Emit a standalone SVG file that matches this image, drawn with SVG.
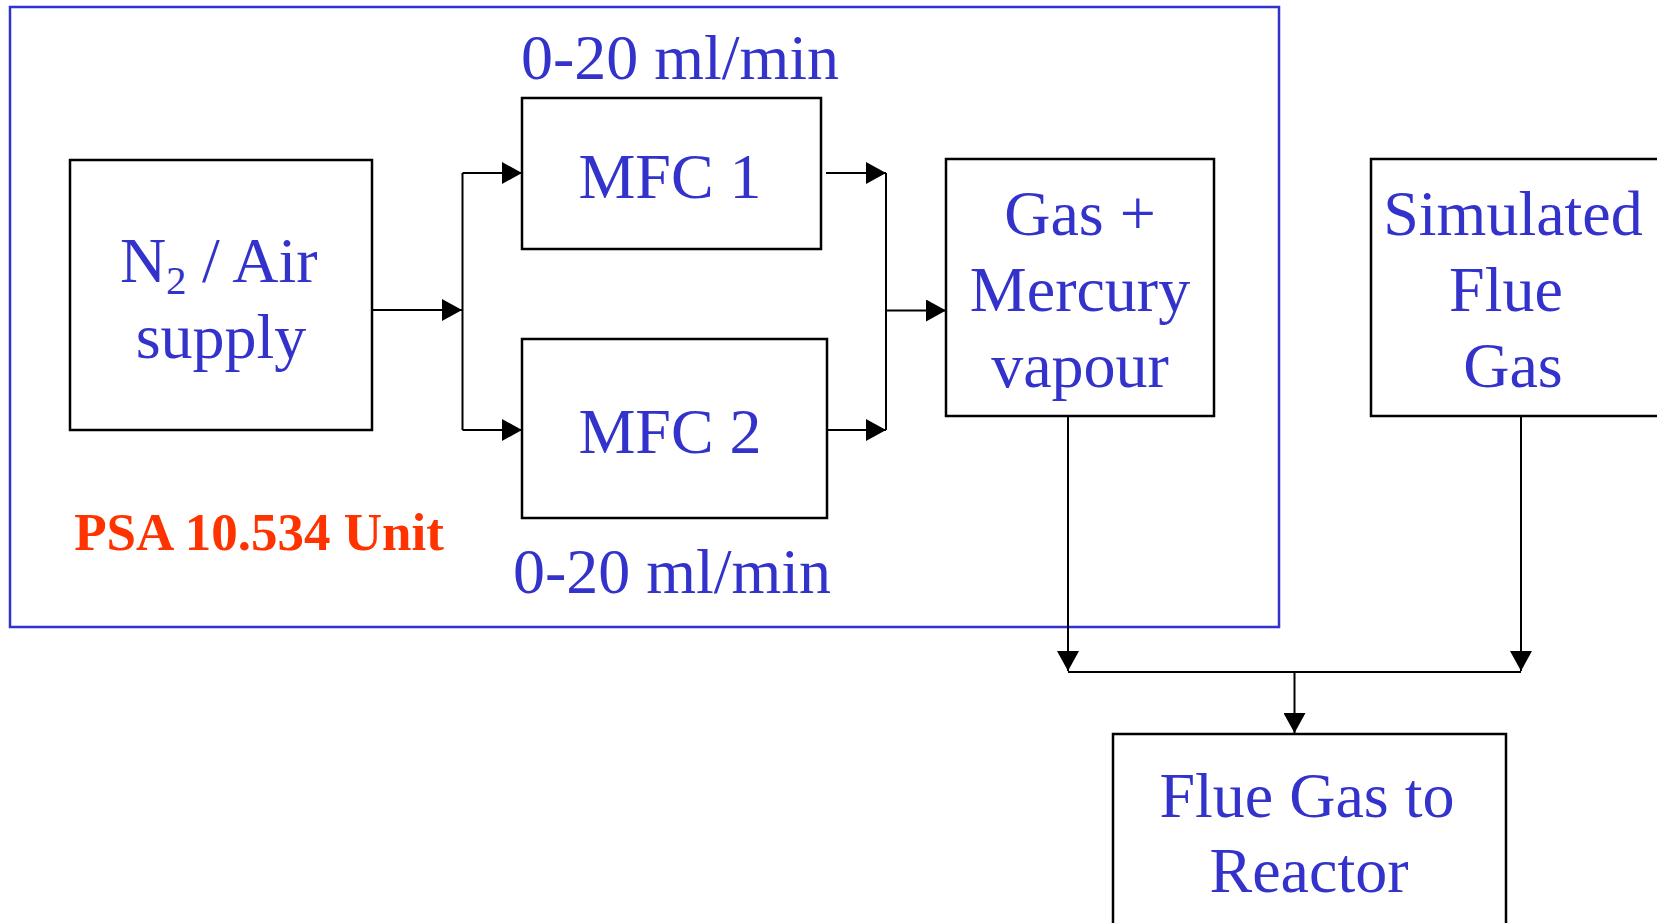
<svg xmlns="http://www.w3.org/2000/svg" width="1657" height="923" viewBox="0 0 1657 923">
<defs>
<style>
.box{fill:#fff;stroke:#000;stroke-width:2.5}
.t{font-family:"Liberation Serif","Times New Roman",serif;font-size:64px;fill:#3333CC;text-anchor:middle}
.s{font-family:"Liberation Serif","Times New Roman",serif;font-size:64px;fill:#3333CC;text-anchor:start}
.sub{font-family:"Liberation Serif","Times New Roman",serif;font-size:41px;fill:#3333CC;text-anchor:start}
.c{fill:none;stroke:#000;stroke-width:2}
</style>
<marker id="ah" markerUnits="userSpaceOnUse" markerWidth="20" markerHeight="22" refX="20" refY="11" orient="auto">
<path d="M0,0 L20,11 L0,22 Z" fill="#000"/>
</marker>
</defs>
<rect width="1657" height="923" fill="#fff"/>
<g id="psa-unit">
<rect x="10" y="7" width="1269" height="620" fill="none" stroke="#3333CC" stroke-width="2.5"/>
<text x="259" y="550" font-family="'Liberation Serif','Times New Roman',serif" font-size="53" font-weight="bold" fill="#FF3300" text-anchor="middle">PSA 10.534 Unit</text>
</g>
<g id="n2-air">
<rect class="box" x="70" y="160" width="302" height="270"/>
<text class="s" x="120" y="282">N</text>
<text class="sub" x="166" y="294">2</text>
<text class="s" x="202" y="282">/ Air</text>
<text class="t" x="221" y="358">supply</text>
</g>
<g id="mfc1">
<rect class="box" x="522" y="98" width="299" height="151"/>
<text class="t" x="670" y="198">MFC 1</text>
<text class="t" x="680" y="79">0-20 ml/min</text>
</g>
<g id="mfc2">
<rect class="box" x="522" y="339" width="305" height="179"/>
<text class="t" x="670" y="453">MFC 2</text>
<text class="t" x="672" y="593">0-20 ml/min</text>
</g>
<g id="gas-mercury">
<rect class="box" x="946" y="159" width="268" height="257"/>
<text class="t" x="1080" y="235">Gas +</text>
<text class="t" x="1080" y="311">Mercury</text>
<text class="t" x="1080" y="387">vapour</text>
</g>
<g id="simulated-flue-gas">
<rect class="box" x="1371" y="159" width="288" height="257"/>
<text class="t" x="1513" y="235">Simulated</text>
<text class="t" x="1506" y="311">Flue</text>
<text class="t" x="1513" y="387">Gas</text>
</g>
<g id="flue-gas-reactor">
<rect class="box" x="1113" y="734" width="393" height="200"/>
<text class="t" x="1307" y="817">Flue Gas to</text>
<text class="t" x="1309" y="892">Reactor</text>
</g>
<g id="connectors">
<path class="c" d="M372,310 H462" marker-end="url(#ah)"/>
<path class="c" d="M462.5,173 V430"/>
<path class="c" d="M462.5,173 H522" marker-end="url(#ah)"/>
<path class="c" d="M462.5,430 H522" marker-end="url(#ah)"/>
<path class="c" d="M826,173 H886" marker-end="url(#ah)"/>
<path class="c" d="M827,430 H886" marker-end="url(#ah)"/>
<path class="c" d="M886,173 V430"/>
<path class="c" d="M886,310.5 H946" marker-end="url(#ah)"/>
<path class="c" d="M1068,416 V671" marker-end="url(#ah)"/>
<path class="c" d="M1521,416 V671" marker-end="url(#ah)"/>
<path class="c" d="M1068,672 H1521"/>
<path class="c" d="M1294.5,672 V733" marker-end="url(#ah)"/>
</g>
</svg>
